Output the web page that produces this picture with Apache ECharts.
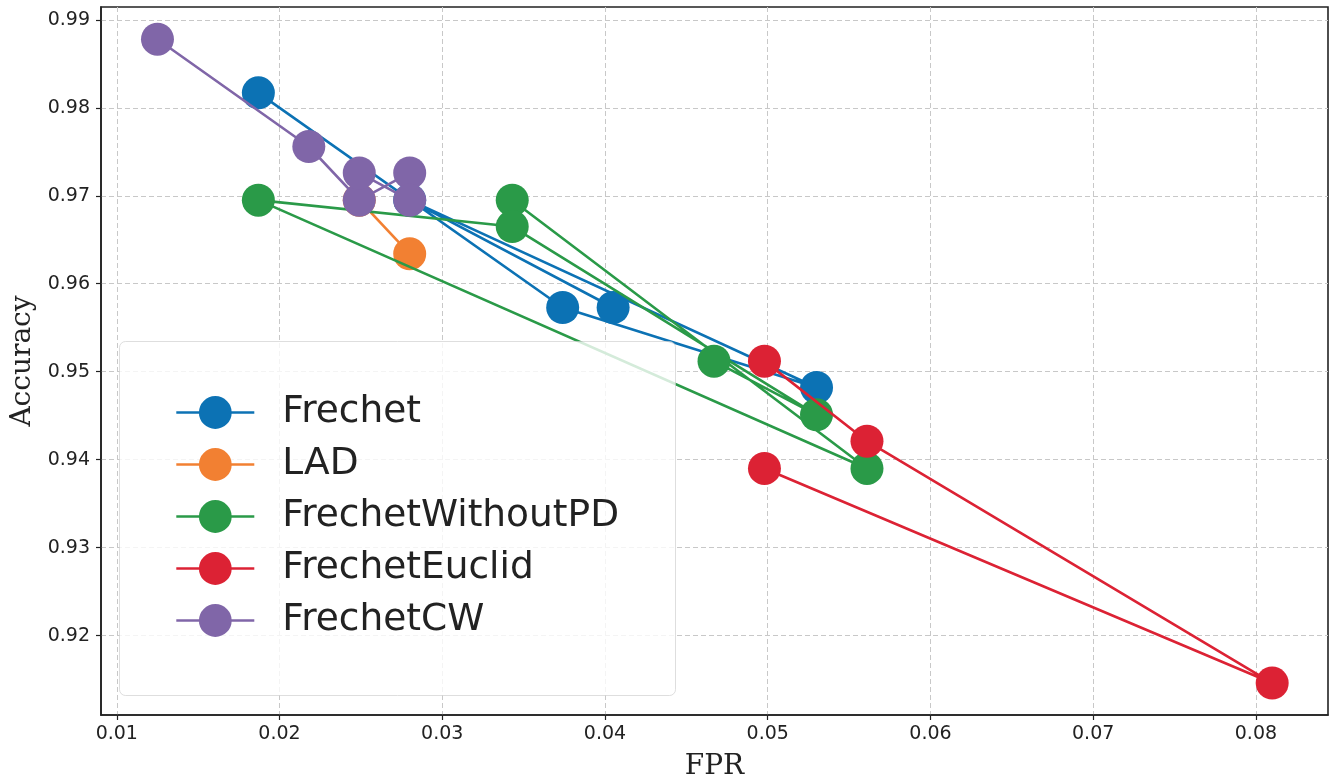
<!DOCTYPE html>
<html>
<head>
<meta charset="utf-8">
<script src="https://cdn.jsdelivr.net/npm/echarts@6/dist/echarts.min.js"></script>
<style>
  html, body { margin: 0; padding: 0; background: #fff; }
  #chart { width: 1330px; height: 781px; }
</style>
</head>
<body>
<div id="chart"></div>
<script>
// series names, in plotting order
const seriesNames = ['Frechet', 'LAD', 'FrechetWithoutPD', 'FrechetEuclid', 'FrechetCW'];
const seriesColors = ['#0c72b4', '#f28032', '#2a9a48', '#dc2234', '#8066a8'];

// points in drawing order (x = FPR, y = Accuracy)
const frechetFpr = [0.0187, 0.0374, 0.0530, 0.0280, 0.0405];
const frechetAcc = [0.9817, 0.9573, 0.9482, 0.9695, 0.9573];

const ladFpr = [0.0249, 0.0280];
const ladAcc = [0.9695, 0.9634];

const withoutPdFpr = [0.0343, 0.0561, 0.0187, 0.0343, 0.0530, 0.0467];
const withoutPdAcc = [0.9695, 0.9390, 0.9695, 0.9665, 0.9451, 0.9512];

const euclidFpr = [0.0498, 0.0561, 0.0810, 0.0498];
const euclidAcc = [0.9512, 0.9421, 0.9146, 0.9390];

const cwFpr = [0.0125, 0.0218, 0.0249, 0.0280, 0.0280, 0.0249];
const cwAcc = [0.9878, 0.9756, 0.9695, 0.9726, 0.9695, 0.9726];

const xTicks = [0.01, 0.02, 0.03, 0.04, 0.05, 0.06, 0.07, 0.08];
const yTicks = [0.92, 0.93, 0.94, 0.95, 0.96, 0.97, 0.98, 0.99];

const allFpr = [frechetFpr, ladFpr, withoutPdFpr, euclidFpr, cwFpr];
const allAcc = [frechetAcc, ladAcc, withoutPdAcc, euclidAcc, cwAcc];

const chart = echarts.init(document.getElementById('chart'), null, { renderer: 'canvas' });

const textColor = '#222222';
const lineWidth = 2.6;

const series = seriesNames.map((name, i) => ({
    name: name,
    type: 'line',
    z: 2 + i,
    data: allFpr[i].map((x, j) => [x, allAcc[i][j]]),
    symbol: 'circle',
    symbolSize: 33,
    showSymbol: true,
    animation: false,
    lineStyle: { width: lineWidth, color: seriesColors[i] },
    itemStyle: { color: seriesColors[i] },
    emphasis: { disabled: true }
}));

const option = {
    animation: false,
    color: seriesColors,
    grid: {
        left: 101, right: 2, top: 7, bottom: 66,
        show: true,
        borderColor: textColor,
        borderWidth: 1.6,
        outerBoundsMode: 'none'
    },
    xAxis: {
        type: 'value',
        min: 0.00903,
        max: 0.08443,
        name: 'FPR',
        nameLocation: 'middle',
        nameGap: 38,
        nameTextStyle: { fontFamily: 'DejaVu Serif', fontSize: 28, color: textColor },
        axisLine: { show: true, onZero: false, lineStyle: { color: textColor, width: 1.6 } },
        axisTick: { show: true, length: 5, customValues: xTicks, lineStyle: { color: textColor, width: 1.2 } },
        axisLabel: {
            customValues: xTicks,
            formatter: v => v.toFixed(2),
            fontFamily: 'DejaVu Sans', fontSize: 19, color: textColor, margin: 10
        },
        splitLine: { show: true, lineStyle: { color: '#c8c8c8', width: 1, type: [5, 3] } }
    },
    yAxis: {
        type: 'value',
        min: 0.91097,
        max: 0.99146,
        name: 'Accuracy',
        nameLocation: 'middle',
        nameGap: 64,
        nameTextStyle: { fontFamily: 'DejaVu Serif', fontSize: 28, color: textColor },
        axisLine: { show: true, onZero: false, lineStyle: { color: textColor, width: 1.6 } },
        axisTick: { show: true, length: 5, customValues: yTicks, lineStyle: { color: textColor, width: 1.2 } },
        axisLabel: {
            customValues: yTicks,
            formatter: v => v.toFixed(2),
            fontFamily: 'DejaVu Sans', fontSize: 19, color: textColor, margin: 11
        },
        splitLine: { show: true, lineStyle: { color: '#c8c8c8', width: 1, type: [5, 3] } }
    },
    legend: {
        data: seriesNames,
        orient: 'vertical',
        left: 175,
        top: 392,
        padding: 0,
        itemWidth: 78,
        itemHeight: 41,
        itemGap: 11,
        selectedMode: false,
        z: 20,
        lineStyle: { width: lineWidth },
        textStyle: {
            fontFamily: 'DejaVu Sans', fontSize: 37.5, color: textColor,
            lineHeight: 41, padding: [0, 0, 0, 23]
        }
    },
    graphic: [{
        type: 'rect',
        left: 119,
        top: 341,
        z: 15,
        shape: { width: 556, height: 354, r: 6 },
        style: { fill: 'rgba(255,255,255,0.8)', stroke: 'rgba(200,200,200,0.6)', lineWidth: 1 }
    }],
    series: series
};

chart.setOption(option);
window.addEventListener('resize', chart.resize);
</script>
</body>
</html>
